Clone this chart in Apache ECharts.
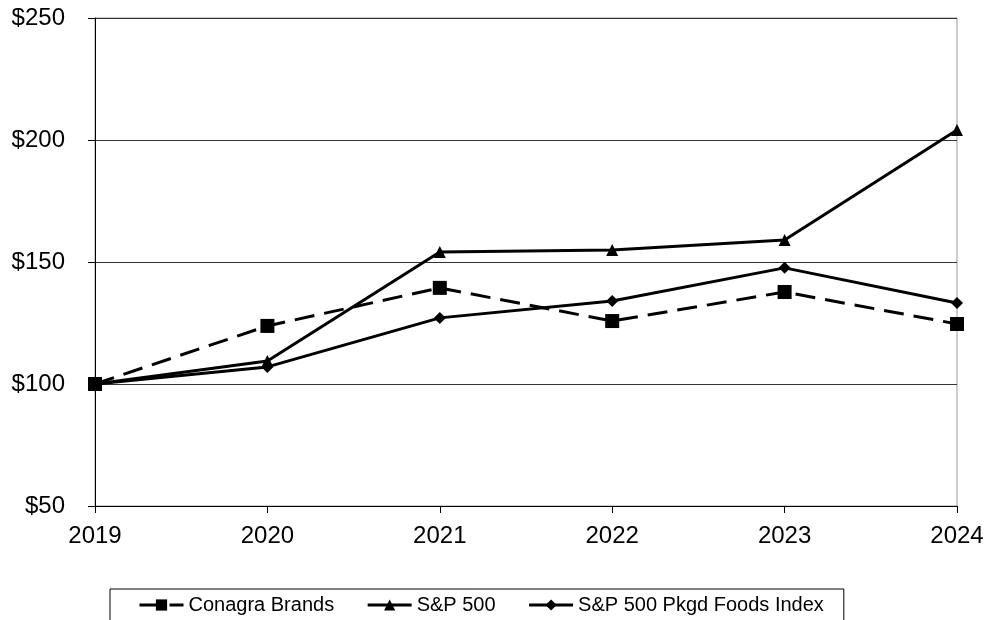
<!DOCTYPE html>
<html><head><meta charset="utf-8">
<script src="https://cdn.jsdelivr.net/npm/echarts@6/dist/echarts.min.js"></script>
<style>html,body{margin:0;padding:0;background:#fff}#c{width:987px;height:620px}</style>
</head><body><div id="c"></div>
<script>
const years = ['2019','2020','2021','2022','2023','2024'];
const conagra = [100, 123.8, 139.4, 125.8, 137.7, 124.6];
const sp500 = [100, 109.4, 154.1, 154.9, 159.0, 204.1];
const pkgdFoods = [100, 107.0, 127.1, 134.0, 147.6, 133.2];
const yTicks = {min: 50, max: 250, interval: 50};

const chart = echarts.init(document.getElementById('c'));
const font = 'Liberation Sans, Arial, sans-serif';
chart.setOption({
  animation: false,
  backgroundColor: '#fff',
  grid: {left: 95, right: 30, top: 18, bottom: 114, show: true, borderColor: '#999', borderWidth: 1},
  xAxis: {
    type: 'category', data: years, boundaryGap: false,
    axisLine: {lineStyle: {color: '#000', width: 1}},
    axisTick: {length: 7, lineStyle: {color: '#000'}},
    axisLabel: {color: '#000', fontSize: 24, fontFamily: font, margin: 18},
    splitLine: {show: false}
  },
  yAxis: {
    type: 'value', min: yTicks.min, max: yTicks.max, interval: yTicks.interval,
    axisLine: {show: true, lineStyle: {color: '#000', width: 1}},
    axisTick: {show: true, length: 7, lineStyle: {color: '#000'}},
    axisLabel: {color: '#000', fontSize: 24, fontFamily: font, margin: 30, formatter: '${value}'},
    splitLine: {show: true, lineStyle: {color: '#333', width: 1}}
  },
  legend: {
    left: 110, top: 589,
    padding: [6, 20, 14, 28],
    borderColor: '#000', borderWidth: 1,
    itemGap: 32, itemWidth: 44, itemHeight: 14,
    lineStyle: {width: 3},
    textStyle: {color: '#000', fontSize: 20, fontFamily: font},
    data: ['Conagra Brands', 'S&P 500', 'S&P 500 Pkgd Foods Index']
  },
  series: [
    {name: 'Conagra Brands', type: 'line', data: conagra, symbol: 'rect', symbolSize: 14,
     lineStyle: {color: '#000', width: 3, type: [20, 10]}, itemStyle: {color: '#000'}, z: 3},
    {name: 'S&P 500', type: 'line', data: sp500, symbol: 'triangle', symbolSize: 12,
     lineStyle: {color: '#000', width: 3}, itemStyle: {color: '#000'}, z: 3},
    {name: 'S&P 500 Pkgd Foods Index', type: 'line', data: pkgdFoods, symbol: 'diamond', symbolSize: 12,
     lineStyle: {color: '#000', width: 3}, itemStyle: {color: '#000'}, z: 3}
  ]
});
</script></body></html>
